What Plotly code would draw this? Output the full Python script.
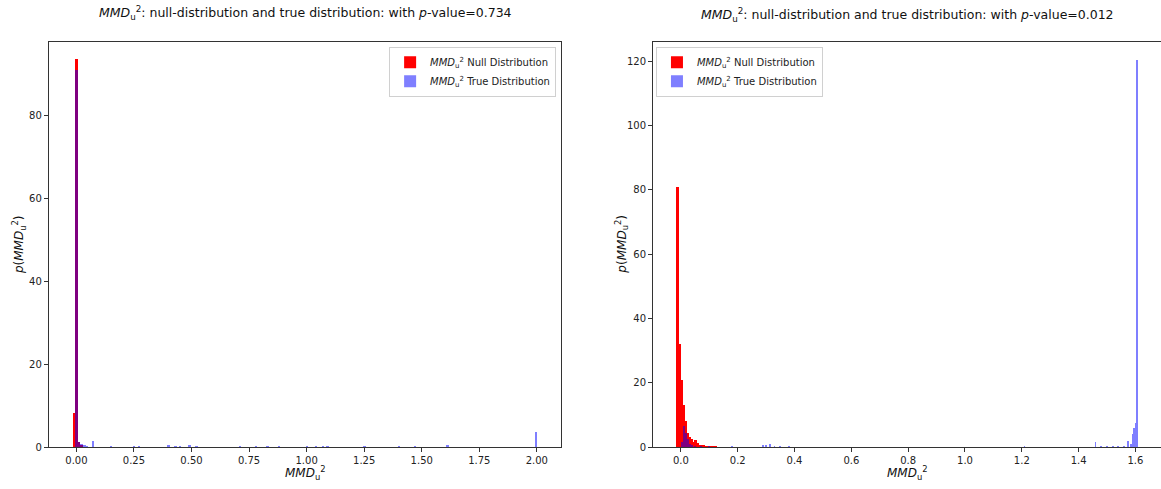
import plotly.graph_objects as go

# left panel (p-value 0.734)
left_null_x = [-0.012, -0.001, 0.010, 0.021]
left_null_y = [8.2, 93.8, 1.2, 0.4]
left_true_x = [-0.001, 0.011, 0.022, 0.034, 0.045, 0.072, 0.15, 0.25, 0.27, 0.40, 0.43,
               0.45, 0.49, 0.52, 0.71, 0.78, 0.83, 0.88, 1.00, 1.04, 1.07, 1.09, 1.25,
               1.40, 1.47, 1.61, 1.995]
left_true_y = [91.0, 1.1, 0.8, 0.5, 0.3, 1.5, 0.3, 0.2, 0.15, 0.4, 0.3,
               0.3, 0.5, 0.3, 0.3, 0.2, 0.2, 0.2, 0.2, 0.2, 0.2, 0.15, 0.15,
               0.15, 0.15, 0.4, 3.6]

# right panel (p-value 0.012)
right_null_x = [-0.0105, -0.0035, 0.0035, 0.0105, 0.0175, 0.0245, 0.0315, 0.0385,
                0.0455, 0.0525, 0.0595, 0.0665, 0.0735, 0.0805, 0.0875, 0.0945,
                0.1015, 0.1085, 0.1155, 0.1225]
right_null_y = [81.0, 32.0, 21.0, 13.0, 8.0, 4.5, 3.0, 2.5, 1.5, 2.2, 1.2, 0.7,
                0.5, 0.4, 0.3, 0.3, 0.2, 0.2, 0.1, 0.1]
right_true_x = [0.005, 0.012, 0.019, 0.026, 0.033, 0.040, 0.050, 0.070, 0.100, 0.130,
                0.180, 0.290, 0.300, 0.315, 0.330, 0.350, 0.380, 0.400, 0.760, 1.210,
                1.270, 1.460, 1.480, 1.500, 1.520, 1.540, 1.560, 1.575, 1.585, 1.590,
                1.595, 1.600, 1.605]
right_true_y = [1.5, 6.5, 4.5, 2.5, 1.0, 0.6, 0.3, 0.2, 0.2, 0.15,
                0.3, 0.5, 0.6, 1.0, 0.3, 0.2, 0.2, 0.15, 0.1, 0.2,
                0.1, 1.5, 0.2, 0.3, 0.3, 0.2, 0.3, 2.0, 0.8, 4.0,
                6.0, 7.5, 120.5]

MMD = "<i>MMD</i><sub>u</sub><sup>2</sup>"
FONT = "DejaVu Sans"
RED = "#ff0000"
BLUE = "rgba(0,0,255,0.5)"

fig = go.Figure()

fig.add_trace(go.Bar(x=left_null_x, y=left_null_y, width=0.011, marker_color=RED,
                     marker_line_width=0, name=MMD + " Null Distribution",
                     xaxis="x", yaxis="y", legend="legend"))
fig.add_trace(go.Bar(x=left_true_x, y=left_true_y, width=0.011, marker_color=BLUE,
                     marker_line_width=0, name=MMD + " True Distribution",
                     xaxis="x", yaxis="y", legend="legend"))
fig.add_trace(go.Bar(x=right_null_x, y=right_null_y, width=0.007, marker_color=RED,
                     marker_line_width=0, name=MMD + " Null Distribution",
                     xaxis="x2", yaxis="y2", legend="legend2"))
fig.add_trace(go.Bar(x=right_true_x, y=right_true_y, width=0.006, marker_color=BLUE,
                     marker_line_width=0, name=MMD + " True Distribution",
                     xaxis="x2", yaxis="y2", legend="legend2"))

axis_style = dict(showline=True, mirror=True, linecolor="#333", linewidth=1,
                  ticks="outside", ticklen=4, tickcolor="#333", showgrid=False,
                  zeroline=False, automargin=False, tickfont=dict(size=10, color="#222"))

legend_style = dict(bgcolor="white", bordercolor="#d0d0d0", borderwidth=1,
                    font=dict(size=10, color="#222", family=FONT),
                    itemwidth=30, tracegroupgap=2)

ylabel = "<i>p</i>(" + MMD + ")"

fig.update_layout(
    width=1161, height=489,
    margin=dict(l=0, r=0, t=42, b=42, autoexpand=False),
    paper_bgcolor="white", plot_bgcolor="white",
    barmode="overlay", bargap=0,
    font=dict(family=FONT, color="#222"),
    xaxis=dict(domain=[0.042, 0.483], range=[-0.12, 2.104], anchor="y",
               tickvals=[0, 0.25, 0.5, 0.75, 1.0, 1.25, 1.5, 1.75, 2.0], tickformat=".2f",
               **axis_style),
    yaxis=dict(domain=[0, 1], range=[0, 97.8], anchor="x",
               tickvals=[0, 20, 40, 60, 80], **axis_style),
    xaxis2=dict(domain=[0.5625, 1.0], range=[-0.098, 1.69], anchor="y2",
                tickvals=[0, 0.2, 0.4, 0.6, 0.8, 1.0, 1.2, 1.4, 1.6], tickformat=".1f",
                **axis_style),
    yaxis2=dict(domain=[0, 1], range=[0, 126], anchor="x2",
                tickvals=[0, 20, 40, 60, 80, 100, 120],
                **{**axis_style, "mirror": False}),
    legend=dict(x=0.479, xanchor="right", y=0.988, yanchor="top", **legend_style),
    legend2=dict(x=0.565, xanchor="left", y=0.988, yanchor="top", **legend_style),
    annotations=[
        dict(text=MMD + ": null-distribution and true distribution: with <i>p</i>-value=0.734",
             x=0.263, y=1.072, xref="paper", yref="paper", showarrow=False,
             xanchor="center", yanchor="middle", font=dict(size=12.5, color="#111")),
        dict(text=MMD + ": null-distribution and true distribution: with <i>p</i>-value=0.012",
             x=0.782, y=1.067, xref="paper", yref="paper", showarrow=False,
             xanchor="center", yanchor="middle", font=dict(size=12.5, color="#111")),
        # x axis labels
        dict(text=MMD, x=0.263, y=-0.063, xref="paper", yref="paper", showarrow=False,
             xanchor="center", yanchor="middle", font=dict(size=12, color="#111")),
        dict(text=MMD, x=0.782, y=-0.063, xref="paper", yref="paper", showarrow=False,
             xanchor="center", yanchor="middle", font=dict(size=12, color="#111")),
        # y axis labels
        dict(text=ylabel, x=0.016, y=0.5, xref="paper", yref="paper", showarrow=False,
             textangle=-90, xanchor="center", yanchor="middle",
             font=dict(size=12, color="#111")),
        dict(text=ylabel, x=0.535, y=0.5, xref="paper", yref="paper", showarrow=False,
             textangle=-90, xanchor="center", yanchor="middle",
             font=dict(size=12, color="#111")),
    ],
)

# drop the default 8px page margin so the figure fills the window exactly
fig.write_html("out.html", config={"displayModeBar": False},
               post_script="document.body.style.margin='0';")
